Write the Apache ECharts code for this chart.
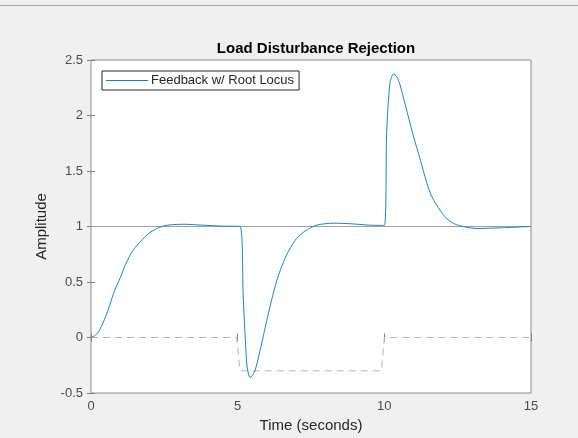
<!DOCTYPE html>
<html>
<head>
<meta charset="utf-8">
<script src="https://cdn.jsdelivr.net/npm/echarts@6/dist/echarts.min.js"></script>
<style>
  html, body { margin: 0; padding: 0; background: #f0f0f0; }
  #chart { width: 578px; height: 438px; }
</style>
</head>
<body>
<div id="chart"></div>
<script>
// time (s) and amplitude
const respTime = [0, 0.15, 0.3, 0.5, 0.65, 0.8, 1.0, 1.15, 1.33, 1.5, 1.67, 1.85, 2.0, 2.2, 2.35, 2.7, 3.2, 3.8, 4.5, 5.08,
  5.19, 5.31, 5.37, 5.42, 5.48, 5.59, 5.76, 5.99, 6.15, 6.33, 6.5, 6.67, 6.85, 7.0, 7.3, 7.69, 8.26, 8.83, 9.5, 10.0,
  10.08, 10.19, 10.31, 10.42, 10.53, 10.76, 10.99, 11.22, 11.44, 11.6, 11.79, 12.0, 12.13, 12.35, 12.58, 13.15, 13.94, 15];
const respAmp = [0, 0.02, 0.07, 0.19, 0.30, 0.42, 0.54, 0.64, 0.74, 0.81, 0.86, 0.91, 0.945, 0.975, 0.995, 1.015, 1.02, 1.012, 1.003, 1.0,
  0.357, -0.238, -0.33, -0.36, -0.35, -0.30, -0.12, 0.15, 0.33, 0.51, 0.64, 0.745, 0.83, 0.89, 0.96, 1.012, 1.03, 1.025, 1.012, 1.01,
  1.85, 2.29, 2.375, 2.35, 2.28, 2.05, 1.815, 1.607, 1.40, 1.28, 1.19, 1.11, 1.07, 1.03, 1.006, 0.982, 0.988, 1.0];

// disturbance input (dashed)
const distTime = [0, 4.97, 5.08, 9.9, 10.0, 15];
const distAmp = [0, 0, -0.3, -0.3, 0, 0];

// reference level
const refTime = [0, 15];
const refAmp = [1, 1];

const xTicks = { min: 0, max: 15, interval: 5 };
const yTicks = { min: -0.5, max: 2.5, interval: 0.5 };

const seriesName = "Feedback w/ Root Locus";

function pairs(xs, ys) {
  return xs.map((x, i) => [x, ys[i]]);
}

const font = "Liberation Sans, Arial, sans-serif";
const tickStyle = { inside: true, length: 4, lineStyle: { color: "#808080" } };

const chart = echarts.init(document.getElementById("chart"));
chart.setOption({
  backgroundColor: "#f0f0f0",
  animation: false,
  title: {
    text: "Load Disturbance Rejection",
    left: 311,
    top: 36,
    textAlign: "center",
    textStyle: { fontFamily: font, fontSize: 15, fontWeight: "bold", color: "#000" },
  },
  legend: {
    left: 102,
    top: 71,
    data: [{ name: seriesName, icon: "rect" }],
    itemWidth: 42,
    itemHeight: 1,
    itemGap: 3,
    padding: [3, 5, 3, 4],
    borderColor: "#262626",
    borderWidth: 1,
    borderRadius: 0,
    backgroundColor: "#fff",
    textStyle: { fontFamily: font, fontSize: 13, color: "#262626", padding: [0, 0, 0, -2] },
  },
  graphic: [
    {
      type: "line",
      shape: { x1: 0, y1: 5.5, x2: 578, y2: 5.5 },
      style: { stroke: "#a8a8a8", lineWidth: 1 },
      silent: true,
    },
  ],
  grid: {
    left: 91,
    top: 60,
    width: 440,
    height: 336,
    show: true,
    backgroundColor: "#fff",
    borderColor: "#8c8c8c",
    borderWidth: 1,
  },
  xAxis: [
    {
      type: "value",
      min: xTicks.min,
      max: xTicks.max,
      interval: xTicks.interval,
      name: "Time (seconds)",
      nameLocation: "middle",
      nameGap: 25,
      nameTextStyle: { fontFamily: font, fontSize: 15, color: "#262626" },
      axisLine: { show: false },
      axisTick: tickStyle,
      splitLine: { show: false },
      axisLabel: { fontFamily: font, fontSize: 13, color: "#4d4d4d", margin: 7 },
    },
    {
      type: "value",
      position: "top",
      min: xTicks.min,
      max: xTicks.max,
      interval: xTicks.interval,
      axisLine: { show: false },
      axisTick: tickStyle,
      splitLine: { show: false },
      axisLabel: { show: false },
    },
  ],
  yAxis: [
    {
      type: "value",
      min: yTicks.min,
      max: yTicks.max,
      interval: yTicks.interval,
      name: "Amplitude",
      nameLocation: "middle",
      nameGap: 36,
      nameTextStyle: { fontFamily: font, fontSize: 15, color: "#262626" },
      axisLine: { show: false },
      axisTick: tickStyle,
      splitLine: { show: false },
      axisLabel: { fontFamily: font, fontSize: 13, color: "#4d4d4d", margin: 8 },
    },
    {
      type: "value",
      position: "right",
      min: yTicks.min,
      max: yTicks.max,
      interval: yTicks.interval,
      axisLine: { show: false },
      axisTick: tickStyle,
      splitLine: { show: false },
      axisLabel: { show: false },
    },
  ],
  series: [
    {
      name: "ref",
      type: "line",
      data: pairs(refTime, refAmp),
      showSymbol: false,
      lineStyle: { color: "#a0a0a0", width: 1 },
      silent: true,
    },
    {
      name: "disturbance",
      type: "line",
      data: pairs(distTime, distAmp),
      showSymbol: false,
      lineStyle: { color: "#b8b8b8", width: 1, type: [7, 5] },
      silent: true,
    },
    {
      name: seriesName,
      type: "line",
      data: pairs(respTime, respAmp),
      showSymbol: false,
      smooth: 0.25,
      color: "#1f80c8",
      lineStyle: { color: "#1f80c8", width: 1 },
    },
  ],
});
</script>
</body>
</html>
